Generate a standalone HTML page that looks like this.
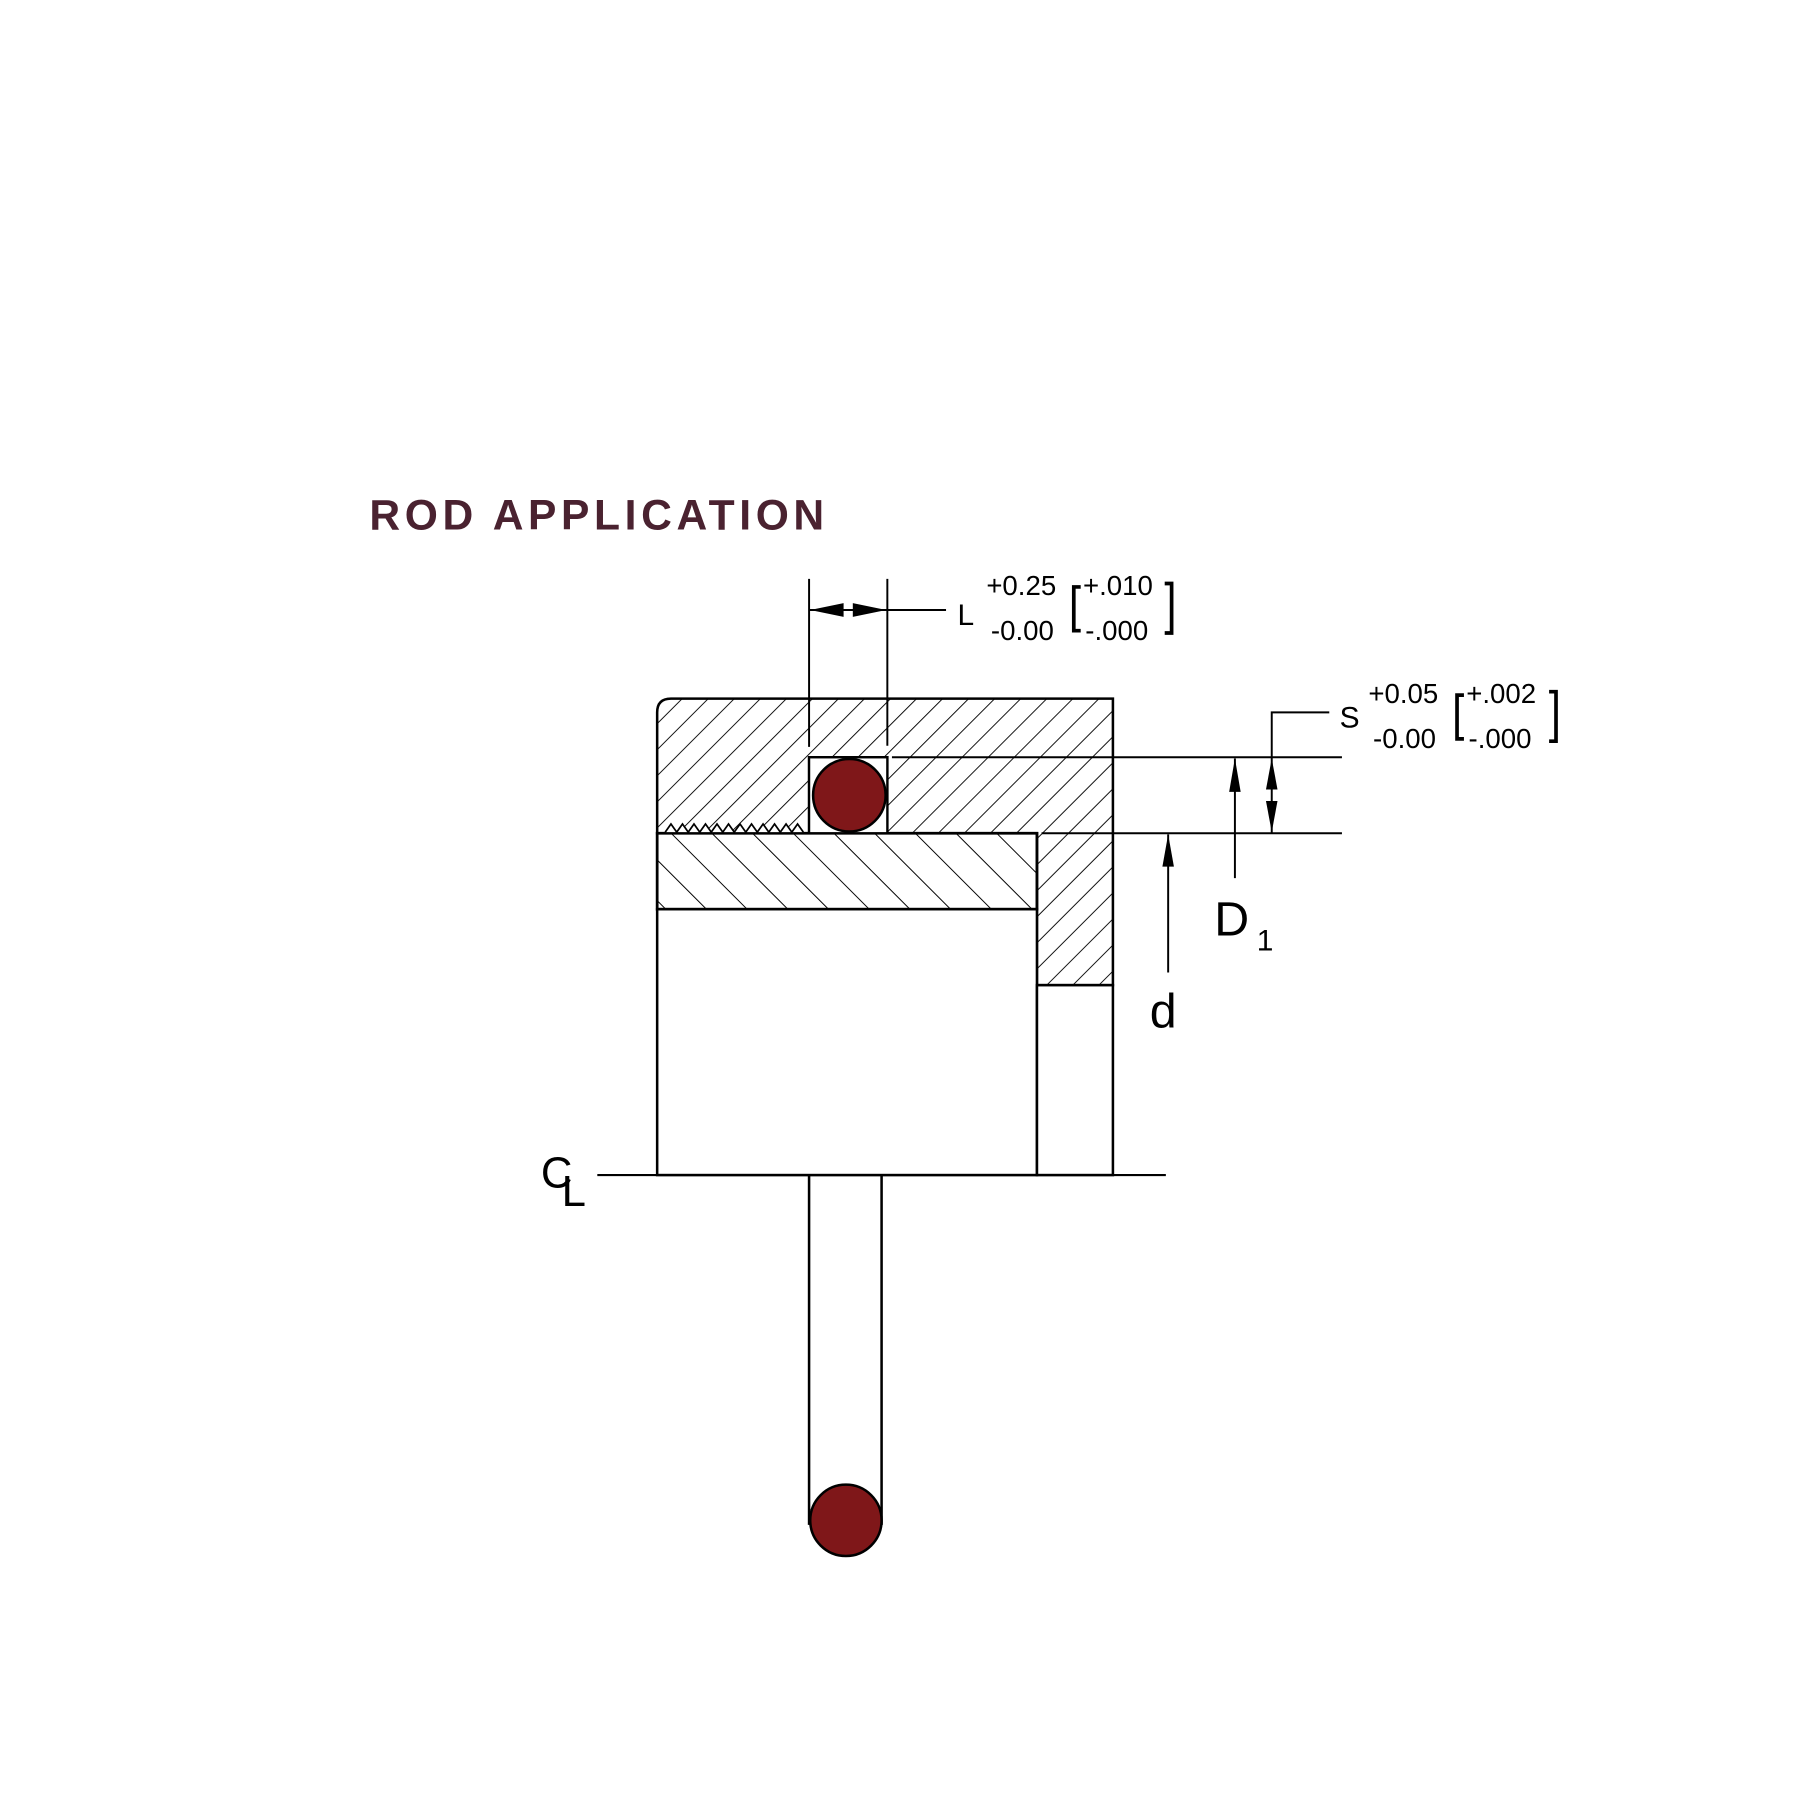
<!DOCTYPE html>
<html><head><style>
html,body{margin:0;padding:0;background:#fff;}
svg{display:block;}
text{font-family:"Liberation Sans",sans-serif;}
</style></head><body>
<svg width="1800" height="1800" viewBox="0 0 1564 1564" xmlns="http://www.w3.org/2000/svg">
<defs>
<pattern id="h1" patternUnits="userSpaceOnUse" width="16" height="16" patternTransform="rotate(45)">
<line x1="0" y1="0" x2="0" y2="16" stroke="#000" stroke-width="1.6"/>
</pattern>
<pattern id="h2" patternUnits="userSpaceOnUse" width="25" height="25" patternTransform="rotate(-45)">
<line x1="0" y1="0" x2="0" y2="25" stroke="#000" stroke-width="1.7"/>
</pattern>
</defs>
<text x="321" y="460" font-size="37" font-weight="bold" fill="#4a2230" letter-spacing="4">ROD APPLICATION</text>

<!-- housing -->
<path d="M571,619 Q571,607 583,607 L967,607 L967,856 L901,856 L901,724 L771,724 L771,658 L703,658 L703,724 L571,724 Z" fill="url(#h1)" stroke="#000" stroke-width="2.2"/>
<!-- rod section -->
<rect x="571" y="724" width="330" height="66" fill="url(#h2)" stroke="#000" stroke-width="2.4"/>
<!-- body -->
<rect x="571" y="790" width="330" height="231" fill="#fff" stroke="#000" stroke-width="2.2"/>
<rect x="901" y="856" width="66" height="165" fill="#fff" stroke="#000" stroke-width="2.2"/>
<!-- serrations -->
<path d="M578,723 L583,716 L588,723 L593,716 L598,723 L603,716 L608,723 L613,716 L618,723 L623,716 L628,723 L633,716 L638,723 L643,716 L648,723 L653,716 L658,723 L663,716 L668,723 L673,716 L678,723 L683,716 L688,723 L693,716 L698,723" fill="#fff" stroke="#000" stroke-width="1.5"/>
<!-- groove & o-ring -->
<rect x="703" y="658" width="68" height="66" fill="#fff" stroke="#000" stroke-width="2"/>
<circle cx="738" cy="691" r="31.5" fill="#7f1719" stroke="#000" stroke-width="2.2"/>
<!-- centerline -->
<line x1="519" y1="1021" x2="1013" y2="1021" stroke="#000" stroke-width="1.8"/>
<text x="470" y="1032" font-size="38">C</text>
<text x="488" y="1048" font-size="38">L</text>
<!-- rod -->
<line x1="703" y1="1021" x2="703" y2="1325" stroke="#000" stroke-width="2.2"/>
<line x1="766" y1="1021" x2="766" y2="1325" stroke="#000" stroke-width="2.2"/>
<circle cx="735" cy="1321" r="31" fill="#7f1719" stroke="#000" stroke-width="2.2"/>

<!-- L dimension -->
<g stroke="#000" stroke-width="1.7">
<line x1="703" y1="503" x2="703" y2="649"/>
<line x1="771" y1="503" x2="771" y2="648"/>
<line x1="703" y1="530" x2="822" y2="530"/>
</g>
<polygon points="704,530 733,524 733,536" fill="#000"/>
<polygon points="770,530 741,524 741,536" fill="#000"/>
<text x="832" y="543" font-size="26" font-weight="300">L</text>
<text x="857" y="517" font-size="24">+0.25</text>
<text x="861" y="556" font-size="24">-0.00</text>
<path d="M939,510 L933,510 L933,548 L939,548" fill="none" stroke="#000" stroke-width="3.2"/>
<text x="941" y="517" font-size="24">+.010</text>
<text x="943" y="556" font-size="24">-.000</text>
<path d="M1012,507 L1018,507 L1018,550 L1012,550" fill="none" stroke="#000" stroke-width="3.2"/>

<!-- D1 / S lines -->
<g stroke="#000" stroke-width="1.7" fill="none">
<line x1="775" y1="658" x2="1166" y2="658"/>
<line x1="905" y1="724" x2="1166" y2="724"/>
<line x1="1073" y1="763" x2="1073" y2="659"/>
<polyline points="1105,724 1105,619 1155,619"/>
<line x1="1015" y1="845" x2="1015" y2="725"/>
</g>
<polygon points="1073,659 1068,688 1078,688" fill="#000"/>
<polygon points="1105,659 1100,686 1110,686" fill="#000"/>
<polygon points="1105,723 1100,696 1110,696" fill="#000"/>
<polygon points="1015,725 1010,753 1020,753" fill="#000"/>
<text x="1164" y="632" font-size="26" font-weight="300">S</text>
<text x="1189" y="611" font-size="24">+0.05</text>
<text x="1193" y="650" font-size="24">-0.00</text>
<path d="M1272,604 L1266,604 L1266,642 L1272,642" fill="none" stroke="#000" stroke-width="3.2"/>
<text x="1274" y="611" font-size="24">+.002</text>
<text x="1276" y="650" font-size="24">-.000</text>
<path d="M1346,601 L1352,601 L1352,644 L1346,644" fill="none" stroke="#000" stroke-width="3.2"/>
<text x="1055" y="813" font-size="42">D</text>
<text x="1092" y="826" font-size="26">1</text>
<text x="999" y="893" font-size="42">d</text>
</svg>
</body></html>
